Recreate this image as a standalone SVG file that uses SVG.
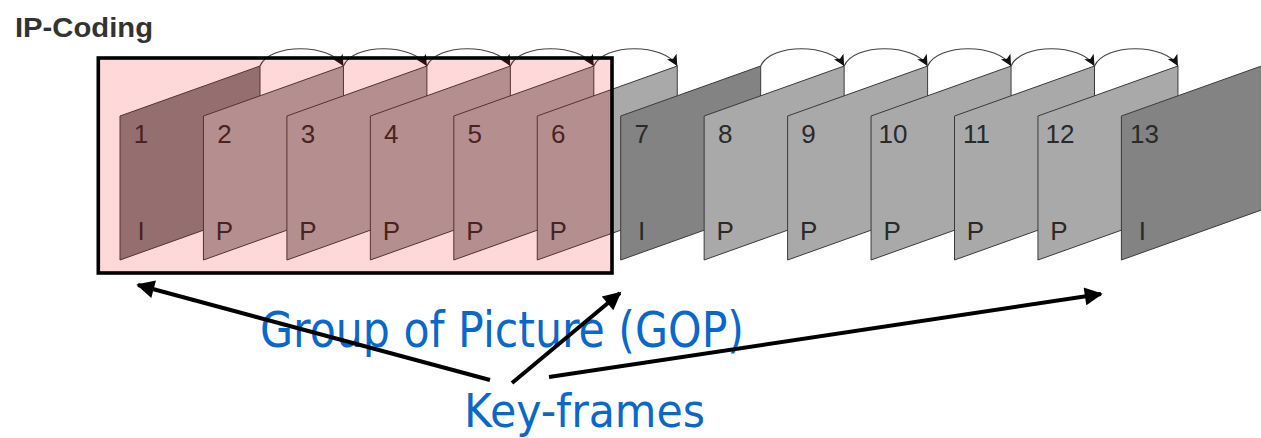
<svg xmlns="http://www.w3.org/2000/svg" width="1261" height="438" viewBox="0 0 1261 438">
<style>
.fr{stroke:#3a3a3a;stroke-width:1}
.I{fill:#838383}
.P{fill:#a9a9a9}
.num{font-family:"Liberation Sans",Arial,sans-serif;font-size:26px;fill:#2a2a2a;text-anchor:middle}
.arc{fill:none;stroke:#444;stroke-width:1.2}
.kf{fill:none;stroke:#000;stroke-width:4}
.blue{font-family:"DejaVu Sans",Verdana,sans-serif;fill:#0a68cc}
</style>
<defs>
<polygon id="shape" points="0,116 140,66 140,210 0,260"/>
<marker id="ah" viewBox="0 0 10 10" refX="10" refY="5" markerWidth="14" markerHeight="11" markerUnits="userSpaceOnUse" orient="auto">
<path d="M0,0 L10,5 L0,10 L2.5,5 Z" fill="#111"/>
</marker>
<marker id="bh" viewBox="0 0 10 10" refX="9" refY="5" markerWidth="20" markerHeight="18" markerUnits="userSpaceOnUse" orient="auto">
<path d="M0,0 L10,5 L0,10 Z" fill="#000"/>
</marker>
</defs>
<rect width="1261" height="438" fill="#fff"/>
<text id="title" x="15" y="37" font-family="Liberation Sans,Arial,sans-serif" font-weight="bold" font-size="27" fill="#333" textLength="138" lengthAdjust="spacingAndGlyphs">IP-Coding</text>

<g id="frame1" transform="translate(120,0)"><use href="#shape" class="fr I"/><text class="num" x="21" y="143">1</text><text class="num" x="21" y="240">I</text></g>
<g id="frame2" transform="translate(203.45,0)"><use href="#shape" class="fr P"/><text class="num" x="21" y="143">2</text><text class="num" x="21" y="240">P</text></g>
<g id="frame3" transform="translate(286.9,0)"><use href="#shape" class="fr P"/><text class="num" x="21" y="143">3</text><text class="num" x="21" y="240">P</text></g>
<g id="frame4" transform="translate(370.35,0)"><use href="#shape" class="fr P"/><text class="num" x="21" y="143">4</text><text class="num" x="21" y="240">P</text></g>
<g id="frame5" transform="translate(453.8,0)"><use href="#shape" class="fr P"/><text class="num" x="21" y="143">5</text><text class="num" x="21" y="240">P</text></g>
<g id="frame6" transform="translate(537.25,0)"><use href="#shape" class="fr P"/><text class="num" x="21" y="143">6</text><text class="num" x="21" y="240">P</text></g>
<g id="frame7" transform="translate(620.7,0)"><use href="#shape" class="fr I"/><text class="num" x="21" y="143">7</text><text class="num" x="21" y="240">I</text></g>
<g id="frame8" transform="translate(704.15,0)"><use href="#shape" class="fr P"/><text class="num" x="21" y="143">8</text><text class="num" x="21" y="240">P</text></g>
<g id="frame9" transform="translate(787.6,0)"><use href="#shape" class="fr P"/><text class="num" x="21" y="143">9</text><text class="num" x="21" y="240">P</text></g>
<g id="frame10" transform="translate(871.05,0)"><use href="#shape" class="fr P"/><text class="num" x="22" y="143">10</text><text class="num" x="21" y="240">P</text></g>
<g id="frame11" transform="translate(954.5,0)"><use href="#shape" class="fr P"/><text class="num" x="22" y="143">11</text><text class="num" x="21" y="240">P</text></g>
<g id="frame12" transform="translate(1037.95,0)"><use href="#shape" class="fr P"/><text class="num" x="22" y="143">12</text><text class="num" x="21" y="240">P</text></g>
<g id="frame13" transform="translate(1121.4,0)"><use href="#shape" class="fr I"/><text class="num" x="23" y="143">13</text><text class="num" x="21" y="240">I</text></g>

<g id="connectors">
<path class="arc" marker-end="url(#ah)" d="M260,66 C270,43 330,43 343.45,66"/>
<path class="arc" marker-end="url(#ah)" d="M343.45,66 C353,43 413,43 426.9,66"/>
<path class="arc" marker-end="url(#ah)" d="M426.9,66 C437,43 497,43 510.35,66"/>
<path class="arc" marker-end="url(#ah)" d="M510.35,66 C520,43 580,43 593.8,66"/>
<path class="arc" marker-end="url(#ah)" d="M593.8,66 C604,43 664,43 677.25,66"/>
<path class="arc" marker-end="url(#ah)" d="M760.7,66 C771,43 831,43 844.15,66"/>
<path class="arc" marker-end="url(#ah)" d="M844.15,66 C854,43 914,43 927.6,66"/>
<path class="arc" marker-end="url(#ah)" d="M927.6,66 C938,43 998,43 1011.05,66"/>
<path class="arc" marker-end="url(#ah)" d="M1011.05,66 C1021,43 1081,43 1094.5,66"/>
<path class="arc" marker-end="url(#ah)" d="M1094.5,66 C1105,43 1165,43 1177.95,66"/>
</g>

<g id="gop">
<rect x="98.3" y="58" width="513.7" height="215" fill="#ff0000" fill-opacity="0.15" stroke="none"/>
<rect x="98.3" y="58" width="513.7" height="215" fill="none" stroke="#000" stroke-width="3.6"/>
</g>

<text id="gop-label" class="blue" x="260" y="347" font-size="50" textLength="484" lengthAdjust="spacingAndGlyphs">Group of Picture (GOP)</text>

<g id="keyframe-arrows">
<line class="kf" x1="490" y1="380" x2="138" y2="285" marker-end="url(#bh)"/>
<line class="kf" x1="512" y1="383" x2="620" y2="293" marker-end="url(#bh)"/>
<line class="kf" x1="549" y1="377" x2="1101" y2="294" marker-end="url(#bh)"/>
</g>

<text id="keyframes-label" class="blue" x="464" y="427" font-size="46" textLength="241" lengthAdjust="spacingAndGlyphs">Key-frames</text>
</svg>
